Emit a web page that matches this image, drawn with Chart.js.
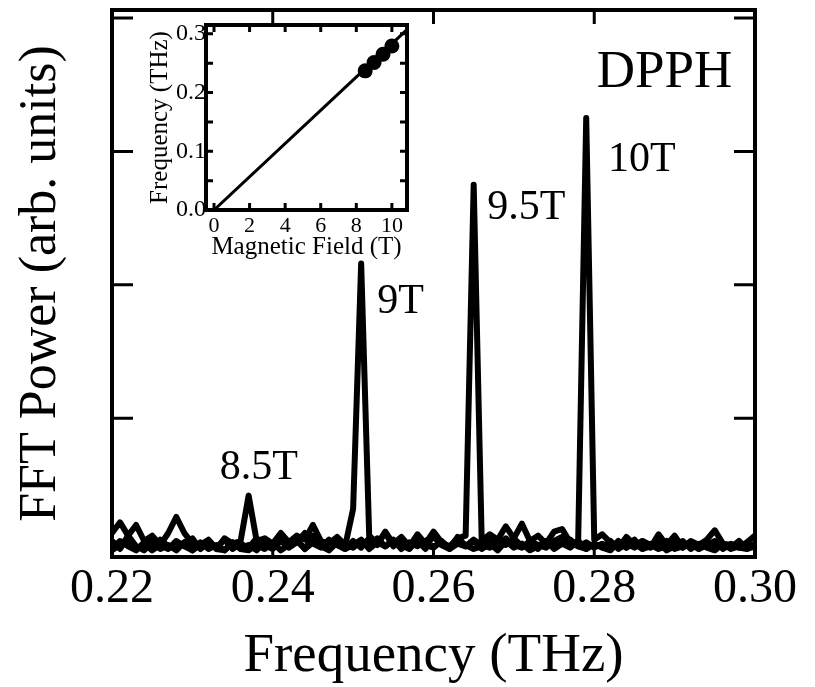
<!DOCTYPE html>
<html>
<head>
<meta charset="utf-8">
<script src="https://cdn.jsdelivr.net/npm/chart.js@4.4.1/dist/chart.umd.min.js"></script>
<style>
  body { margin: 0; background: #fff; }
  #wrap { position: relative; width: 815px; height: 687px; }
  #main { position: absolute; left: 0; top: 0; }
  #inset { position: absolute; left: 140px; top: 0; }
</style>
</head>
<body>
<div id="wrap">
  <canvas id="main" width="815" height="687"></canvas>
  <canvas id="inset" width="280" height="270"></canvas>
</div>
<script>
// frequency grid (THz), shared by the four spectra
const freq = [
  0.220, 0.221, 0.222, 0.223, 0.224, 0.225, 0.226, 0.227, 0.228, 0.229,
  0.230, 0.231, 0.232, 0.233, 0.234, 0.235, 0.236, 0.237, 0.238, 0.239,
  0.240, 0.241, 0.242, 0.243, 0.244, 0.245, 0.246, 0.247, 0.248, 0.249,
  0.250, 0.251, 0.252, 0.253, 0.254, 0.255, 0.256, 0.257, 0.258, 0.259,
  0.260, 0.261, 0.262, 0.263, 0.264, 0.265, 0.266, 0.267, 0.268, 0.269,
  0.270, 0.271, 0.272, 0.273, 0.274, 0.275, 0.276, 0.277, 0.278, 0.279,
  0.280, 0.281, 0.282, 0.283, 0.284, 0.285, 0.286, 0.287, 0.288, 0.289,
  0.290, 0.291, 0.292, 0.293, 0.294, 0.295, 0.296, 0.297, 0.298, 0.299,
  0.300
];

// FFT power (arb. units) at 8.5 T, 9 T, 9.5 T, 10 T
const power85 = [
  0.14, 0.22, 0.12, 0.20, 0.08, 0.12, 0.05, 0.14, 0.26, 0.14,
  0.06, 0.03, 0.08, 0.02, 0.10, 0.06, 0.08, 0.42, 0.08, 0.10,
  0.06, 0.14, 0.07, 0.12, 0.09, 0.20, 0.08, 0.06, 0.11, 0.05,
  0.03, 0.08, 0.05, 0.10, 0.04, 0.08, 0.05, 0.02, 0.09, 0.05,
  0.03, 0.08, 0.02, 0.06, 0.04, 0.09, 0.05, 0.03, 0.08, 0.05,
  0.10, 0.04, 0.06, 0.02, 0.08, 0.04, 0.06, 0.09, 0.04, 0.02,
  0.06, 0.03, 0.08, 0.02, 0.06, 0.03, 0.08, 0.05, 0.02, 0.04,
  0.08, 0.03, 0.06, 0.02, 0.07, 0.03, 0.06, 0.02, 0.04, 0.06,
  0.04
];
const power90 = [
  0.08, 0.02, 0.12, 0.04, 0.01, 0.08, 0.02, 0.05, 0.01, 0.07,
  0.01, 0.05, 0.09, 0.02, 0.01, 0.07, 0.02, 0.05, 0.01, 0.08,
  0.03, 0.10, 0.04, 0.08, 0.02, 0.12, 0.06, 0.03, 0.08, 0.04,
  0.32, 2.16, 0.12, 0.06, 0.14, 0.04, 0.10, 0.03, 0.08, 0.02,
  0.13, 0.05, 0.02, 0.11, 0.04, 0.08, 0.02, 0.06, 0.01, 0.08,
  0.03, 0.06, 0.01, 0.04, 0.08, 0.02, 0.06, 0.03, 0.08, 0.02,
  0.06, 0.03, 0.01, 0.07, 0.03, 0.09, 0.02, 0.04, 0.07, 0.01,
  0.04, 0.08, 0.02, 0.06, 0.03, 0.01, 0.06, 0.03, 0.08, 0.02,
  0.04
];
const power95 = [
  0.02, 0.08, 0.04, 0.01, 0.07, 0.02, 0.09, 0.04, 0.02, 0.07,
  0.10, 0.02, 0.07, 0.03, 0.09, 0.02, 0.06, 0.03, 0.10, 0.05,
  0.02, 0.08, 0.03, 0.07, 0.14, 0.06, 0.03, 0.09, 0.05, 0.02,
  0.08, 0.03, 0.10, 0.05, 0.15, 0.06, 0.11, 0.04, 0.13, 0.06,
  0.15, 0.07, 0.04, 0.10, 0.12, 2.75, 0.08, 0.13, 0.09, 0.19,
  0.10, 0.21, 0.08, 0.12, 0.06, 0.15, 0.17, 0.07, 0.04, 0.07,
  0.03, 0.06, 0.02, 0.08, 0.03, 0.06, 0.02, 0.06, 0.03, 0.08,
  0.02, 0.04, 0.07, 0.02, 0.05, 0.08, 0.02, 0.06, 0.03, 0.02,
  0.06
];
const power100 = [
  0.01, 0.05, 0.10, 0.02, 0.06, 0.01, 0.05, 0.02, 0.08, 0.04,
  0.01, 0.07, 0.02, 0.05, 0.01, 0.07, 0.02, 0.01, 0.05, 0.02,
  0.07, 0.01, 0.05, 0.09, 0.02, 0.07, 0.04, 0.01, 0.07, 0.02,
  0.05, 0.09, 0.02, 0.07, 0.04, 0.09, 0.02, 0.07, 0.04, 0.08,
  0.11, 0.05, 0.03, 0.08, 0.05, 0.02, 0.04, 0.08, 0.05, 0.10,
  0.05, 0.03, 0.08, 0.05, 0.03, 0.08, 0.11, 0.05, 0.08, 3.25,
  0.09, 0.13, 0.07, 0.03, 0.11, 0.05, 0.08, 0.03, 0.13, 0.05,
  0.12, 0.03, 0.08, 0.05, 0.09, 0.16, 0.06, 0.05, 0.03, 0.07,
  0.12
];

// peak labels, placed in data coordinates
const peakLabels = ["8.5T", "9T", "9.5T", "10T"];
const peakLabelFreq = [0.2334, 0.2530, 0.2667, 0.2817];
const peakLabelPower = [0.545, 1.79, 2.49, 2.85];

const mainXTicks = [0.22, 0.24, 0.26, 0.28, 0.30];
const mainXMarks = [0.24, 0.26, 0.28];
const mainYMarks = [1, 2, 3, 4];

// inset: resonance frequency vs field
const field = [8.5, 9, 9.5, 10];
const resonance = [0.2369, 0.2511, 0.2652, 0.2792];
const fitField = [0, 11];
const fitFreq = [0, 0.3113];
const insetXTicks = [0, 2, 4, 6, 8, 10];
const insetYTicks = [0, 0.1, 0.2, 0.3];
const insetYMarks = [0.05, 0.1, 0.15, 0.2, 0.25, 0.3];

const SERIF = '"Liberation Serif", "Times New Roman", Times, serif';
Chart.defaults.color = "#000";
Chart.defaults.font.family = SERIF;

function toPoints(xs, ys) {
    return xs.map((x, i) => ({ x: x, y: ys[i] }));
}

function spectrum(values) {
    return {
        data: toPoints(freq, values),
        borderColor: "#000",
        borderWidth: 6,
        borderJoinStyle: "round",
        borderCapStyle: "round",
        pointRadius: 0,
        tension: 0,
    };
}

// frame box with inward tick marks on all four sides
const framePlugin = {
    id: "frame",
    afterDraw(chart, args, opts) {
        const { ctx, chartArea: a, scales } = chart;
        ctx.save();
        ctx.strokeStyle = "#000";
        ctx.lineWidth = opts.tickWidth;
        ctx.beginPath();
        opts.xMarks.forEach((v) => {
            const px = scales.x.getPixelForValue(v);
            ctx.moveTo(px, a.bottom);
            ctx.lineTo(px, a.bottom - opts.xLen);
            ctx.moveTo(px, a.top);
            ctx.lineTo(px, a.top + opts.xLen);
        });
        opts.yMarks.forEach((v) => {
            const py = scales.y.getPixelForValue(v);
            ctx.moveTo(a.left, py);
            ctx.lineTo(a.left + opts.yLen, py);
            ctx.moveTo(a.right, py);
            ctx.lineTo(a.right - opts.yLen, py);
        });
        ctx.stroke();
        ctx.lineWidth = opts.frameWidth;
        ctx.strokeRect(a.left, a.top, a.right - a.left, a.bottom - a.top);
        ctx.restore();
    },
};

const labelPlugin = {
    id: "peakText",
    afterDatasetsDraw(chart) {
        const { ctx, scales } = chart;
        ctx.save();
        ctx.fillStyle = "#000";
        ctx.textBaseline = "alphabetic";
        ctx.textAlign = "left";
        ctx.font = "42px " + SERIF;
        peakLabels.forEach((t, i) => {
            ctx.fillText(
                t,
                scales.x.getPixelForValue(peakLabelFreq[i]),
                scales.y.getPixelForValue(peakLabelPower[i]),
            );
        });
        ctx.font = "53px " + SERIF;
        ctx.fillText("DPPH", scales.x.getPixelForValue(0.2803), scales.y.getPixelForValue(3.48));
        ctx.restore();
    },
};

new Chart(document.getElementById("main"), {
    type: "line",
    data: {
        datasets: [spectrum(power85), spectrum(power90), spectrum(power95), spectrum(power100)],
    },
    options: {
        responsive: false,
        animation: false,
        devicePixelRatio: 1,
        layout: { padding: { left: 0, right: 60, top: 10, bottom: 0 } },
        scales: {
            x: {
                type: "linear",
                min: 0.22,
                max: 0.3,
                afterBuildTicks: (s) => { s.ticks = mainXTicks.map((v) => ({ value: v })); },
                afterFit: (s) => { s.height = 130; },
                grid: { display: false, drawTicks: false },
                border: { display: false },
                ticks: {
                    callback: (v) => v.toFixed(2),
                    font: { size: 48 },
                    padding: 4,
                    maxRotation: 0,
                    autoSkip: false,
                },
                title: {
                    display: true,
                    text: "Frequency (THz)",
                    font: { size: 55, lineHeight: 1 },
                    padding: { top: 0, bottom: 3 },
                },
            },
            y: {
                type: "linear",
                min: -0.04,
                max: 4.06,
                afterFit: (s) => { s.width = 112; },
                grid: { display: false, drawTicks: false },
                border: { display: false },
                ticks: { display: false },
                title: {
                    display: true,
                    text: "FFT Power (arb. units)",
                    font: { size: 52, lineHeight: 1 },
                    padding: { top: 15, bottom: 0 },
                },
            },
        },
        plugins: {
            legend: { display: false },
            tooltip: { enabled: false },
            frame: {
                xMarks: mainXMarks,
                yMarks: mainYMarks,
                xLen: 14,
                yLen: 21,
                tickWidth: 3,
                frameWidth: 4,
            },
        },
    },
    plugins: [framePlugin, labelPlugin],
});

new Chart(document.getElementById("inset"), {
    type: "line",
    data: {
        datasets: [
            {
                data: toPoints(fitField, fitFreq),
                borderColor: "#000",
                borderWidth: 3,
                pointRadius: 0,
            },
            {
                data: toPoints(field, resonance),
                showLine: false,
                pointRadius: 7.5,
                pointBackgroundColor: "#000",
                pointBorderColor: "#000",
                pointBorderWidth: 0,
            },
        ],
    },
    options: {
        responsive: false,
        animation: false,
        devicePixelRatio: 1,
        layout: { padding: { left: 0, right: 13, top: 25, bottom: 0 } },
        scales: {
            x: {
                type: "linear",
                min: -0.45,
                max: 10.85,
                afterBuildTicks: (s) => { s.ticks = insetXTicks.map((v) => ({ value: v })); },
                afterFit: (s) => { s.height = 60; },
                grid: { display: false, drawTicks: false },
                border: { display: false },
                ticks: { font: { size: 22 }, padding: 3, maxRotation: 0, autoSkip: false },
                title: {
                    display: true,
                    text: "Magnetic Field (T)",
                    font: { size: 25, lineHeight: 1 },
                    padding: { top: 0, bottom: 10 },
                },
            },
            y: {
                type: "linear",
                min: 0,
                max: 0.315,
                afterBuildTicks: (s) => { s.ticks = insetYTicks.map((v) => ({ value: v })); },
                afterFit: (s) => { s.width = 66; },
                grid: { display: false, drawTicks: false },
                border: { display: false },
                ticks: { callback: (v) => v.toFixed(1), font: { size: 24 }, padding: 0 },
                title: {
                    display: true,
                    text: "Frequency (THz)",
                    font: { size: 25, lineHeight: 1 },
                    padding: { top: 8, bottom: 0 },
                },
            },
        },
        plugins: {
            legend: { display: false },
            tooltip: { enabled: false },
            frame: {
                xMarks: insetXTicks,
                yMarks: insetYMarks,
                xLen: 7,
                yLen: 7,
                tickWidth: 3,
                frameWidth: 4,
            },
        },
    },
    plugins: [framePlugin],
});
</script>
</body>
</html>
